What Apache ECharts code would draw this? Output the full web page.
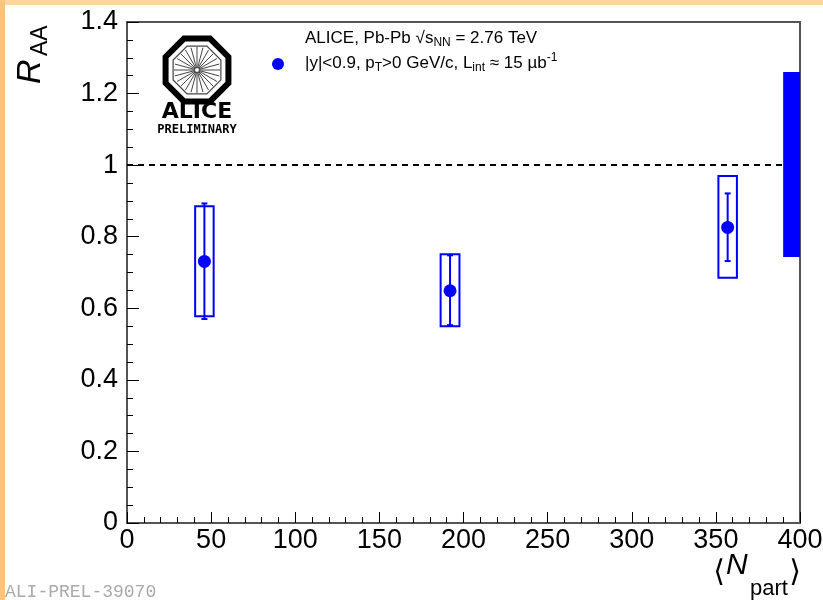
<!DOCTYPE html>
<html><head><meta charset="utf-8">
<script src="https://cdn.jsdelivr.net/npm/echarts@6/dist/echarts.min.js"></script>
<style>html,body{margin:0;padding:0;background:#fff}#c{width:823px;height:600px}</style>
</head><body><div id="c"></div>
<script>
// ---- data ----
const nPart = [46, 192, 357];
const raa = [0.731, 0.649, 0.826];
const statLow = [0.570, 0.553, 0.732];
const statHigh = [0.893, 0.748, 0.921];
const systLow = [0.578, 0.550, 0.685];
const systHigh = [0.885, 0.751, 0.970];
const systHalfWidth = [5.5, 5.6, 5.5];
const globalUncX = [390, 400];
const globalUncY = [0.743, 1.260];
const referenceLine = 1;
const xTickValues = [0, 50, 100, 150, 200, 250, 300, 350, 400];
const yTickValues = [0, 0.2, 0.4, 0.6, 0.8, 1, 1.2, 1.4];

const BLUE = '#0000ff';
const chart = echarts.init(document.getElementById('c'), null, {renderer: 'canvas'});

// logo decoration
const logo = [];
const cx = 197, cy = 70, R = 34;
const oct = [];
for (let k = 0; k < 8; k++) {
  const a = Math.PI / 8 + k * Math.PI / 4;
  oct.push([cx + R * Math.cos(a), cy + R * Math.sin(a)]);
}
logo.push({type: 'polygon', shape: {points: oct}, style: {fill: 'none', stroke: '#000', lineWidth: 6}});
const oct2 = oct.map(p => [cx + (p[0] - cx) * 0.76, cy + (p[1] - cy) * 0.76]);
logo.push({type: 'polygon', shape: {points: oct2}, style: {fill: 'none', stroke: '#444', lineWidth: 1.2}});
for (let k = 0; k < 24; k++) {
  const a = k * Math.PI / 12;
  logo.push({type: 'line', shape: {x1: cx + 2 * Math.cos(a), y1: cy + 2 * Math.sin(a), x2: cx + 23 * Math.cos(a), y2: cy + 23 * Math.sin(a)}, style: {stroke: '#444', lineWidth: 1}});
}

const option = {
  animation: false,
  backgroundColor: '#fff',
  grid: {left: 127, right: 23, top: 22, bottom: 77, containLabel: false, outerBoundsMode: 'none',
    show: true, borderColor: '#555', borderWidth: 2, backgroundColor: 'transparent'},
  xAxis: {
    type: 'value', min: xTickValues[0], max: xTickValues[xTickValues.length - 1], interval: 50,
    axisLine: {show: true, lineStyle: {color: '#555', width: 2}},
    axisTick: {show: true, inside: true, length: 11, lineStyle: {color: '#000', width: 1}},
    minorTick: {show: true, splitNumber: 5, length: 6, lineStyle: {color: '#000', width: 1}},
    splitLine: {show: false},
    axisLabel: {fontSize: 27, color: '#000', fontFamily: 'Liberation Sans', margin: 4, hideOverlap: false}
  },
  yAxis: {
    type: 'value', min: yTickValues[0], max: yTickValues[yTickValues.length - 1], interval: 0.2,
    axisLine: {show: true, lineStyle: {color: '#555', width: 2}},
    axisTick: {show: true, inside: true, length: 12, lineStyle: {color: '#000', width: 1}},
    minorTick: {show: true, splitNumber: 4, length: 6, lineStyle: {color: '#000', width: 1}},
    splitLine: {show: false},
    axisLabel: {fontSize: 27, color: '#000', fontFamily: 'Liberation Sans', margin: 9, hideOverlap: false}
  },
  series: [
    {
      type: 'custom', name: 'syst', z: 2,
      data: nPart.map((x, i) => [x, systLow[i], systHigh[i], systHalfWidth[i]]),
      encode: {x: 0, y: [1, 2]},
      renderItem(params, api) {
        const x = api.value(0), lo = api.value(1), hi = api.value(2), hw = api.value(3);
        const p1 = api.coord([x - hw, hi]), p2 = api.coord([x + hw, lo]);
        return {type: 'rect', shape: {x: p1[0], y: p1[1], width: p2[0] - p1[0], height: p2[1] - p1[1]},
          style: {fill: 'none', stroke: BLUE, lineWidth: 2}};
      },
      markLine: {
        silent: true, symbol: 'none', label: {show: false},
        lineStyle: {type: [6, 5], color: '#000', width: 2},
        data: [{yAxis: referenceLine}]
      }
    },
    {
      type: 'custom', name: 'stat', z: 3,
      data: nPart.map((x, i) => [x, statLow[i], statHigh[i]]),
      encode: {x: 0, y: [1, 2]},
      renderItem(params, api) {
        const x = api.value(0);
        const top = api.coord([x, api.value(2)]), bot = api.coord([x, api.value(1)]);
        return {type: 'group', children: [
          {type: 'line', shape: {x1: top[0], y1: top[1], x2: bot[0], y2: bot[1]}, style: {stroke: BLUE, lineWidth: 2}},
          {type: 'line', shape: {x1: top[0] - 3, y1: top[1], x2: top[0] + 3, y2: top[1]}, style: {stroke: BLUE, lineWidth: 2}},
          {type: 'line', shape: {x1: bot[0] - 3, y1: bot[1], x2: bot[0] + 3, y2: bot[1]}, style: {stroke: BLUE, lineWidth: 2}}
        ]};
      }
    },
    {
      type: 'scatter', name: 'RAA', z: 4,
      data: nPart.map((x, i) => [x, raa[i]]),
      symbol: 'circle', symbolSize: 13, itemStyle: {color: BLUE, opacity: 1}
    },
    {
      type: 'custom', name: 'global', z: 5,
      data: [[globalUncX[0], globalUncX[1], globalUncY[0], globalUncY[1]]],
      encode: {x: [0, 1], y: [2, 3]},
      renderItem(params, api) {
        const p1 = api.coord([api.value(0), api.value(3)]), p2 = api.coord([api.value(1), api.value(2)]);
        return {type: 'rect', shape: {x: p1[0], y: p1[1], width: p2[0] - p1[0], height: p2[1] - p1[1]}, style: {fill: BLUE}};
      }
    }
  ],
  graphic: [
    {type: 'rect', left: 0, top: 0, shape: {width: 823, height: 5}, style: {fill: '#fcd69c'}, z: 10},
    {type: 'rect', left: 0, top: 0, shape: {width: 5, height: 600}, style: {fill: '#f9c47c'}, z: 10},
    // Y axis title
    {type: 'text', x: 31, y: 84, rotation: Math.PI / 2, z: 10,
      style: {text: 'R', font: 'italic 34px "Liberation Sans"', fill: '#000', align: 'left', verticalAlign: 'middle'}},
    {type: 'text', x: 41, y: 56, rotation: Math.PI / 2, z: 10,
      style: {text: 'AA', font: '23px "Liberation Sans"', fill: '#000', align: 'left', verticalAlign: 'middle'}},
    // X axis title
    {type: 'text', x: 719, y: 573, z: 10, style: {text: '⟨', font: '30px "DejaVu Sans"', fill: '#000', align: 'center', verticalAlign: 'middle'}},
    {type: 'text', x: 726, y: 566, z: 10, style: {text: 'N', font: 'italic 30px "Liberation Sans"', fill: '#000', align: 'left', verticalAlign: 'middle'}},
    {type: 'text', x: 750, y: 589, z: 10, style: {text: 'part', font: '22px "Liberation Sans"', fill: '#000', align: 'left', verticalAlign: 'middle'}},
    {type: 'text', x: 795, y: 573, z: 10, style: {text: '⟩', font: '30px "DejaVu Sans"', fill: '#000', align: 'center', verticalAlign: 'middle'}},
    // legend
    {type: 'text', x: 305, y: 38, z: 10, style: {
      text: 'ALICE, Pb-Pb √s{sub|NN} = 2.76 TeV', font: '17px "Liberation Sans"', fill: '#000', verticalAlign: 'middle',
      rich: {sub: {fontSize: 12, padding: [10, 0, 0, 0], fontFamily: 'Liberation Sans'}}}},
    {type: 'circle', shape: {cx: 278, cy: 64, r: 6}, style: {fill: BLUE}, z: 10},
    {type: 'text', x: 305, y: 63, z: 10, style: {
      text: '|y|<0.9, p{sub|T}>0 GeV/c, L{sub|int} ≈ 15 µb{sup|-1}', font: '17px "Liberation Sans"', fill: '#000', verticalAlign: 'middle',
      rich: {sub: {fontSize: 12, padding: [10, 0, 0, 0], fontFamily: 'Liberation Sans'}, sup: {fontSize: 12, padding: [0, 0, 10, 0], fontFamily: 'Liberation Sans'}}}},
    // logo
    {type: 'group', z: 10, children: logo},
    {type: 'text', x: 197, y: 112, z: 10, style: {text: 'ALICE', font: 'bold 22px "DejaVu Sans"', fill: '#000', align: 'center', verticalAlign: 'middle'}},
    {type: 'text', x: 197, y: 130, z: 10, style: {text: 'PRELIMINARY', font: 'bold 12px "DejaVu Sans Mono"', fill: '#000', align: 'center', verticalAlign: 'middle'}},
    // footer
    {type: 'text', x: 5, y: 592, z: 10, style: {text: 'ALI-PREL-39070', font: '18px "Liberation Mono"', fill: '#aaa', align: 'left', verticalAlign: 'middle'}}
  ]
};
chart.setOption(option);
</script></body></html>
